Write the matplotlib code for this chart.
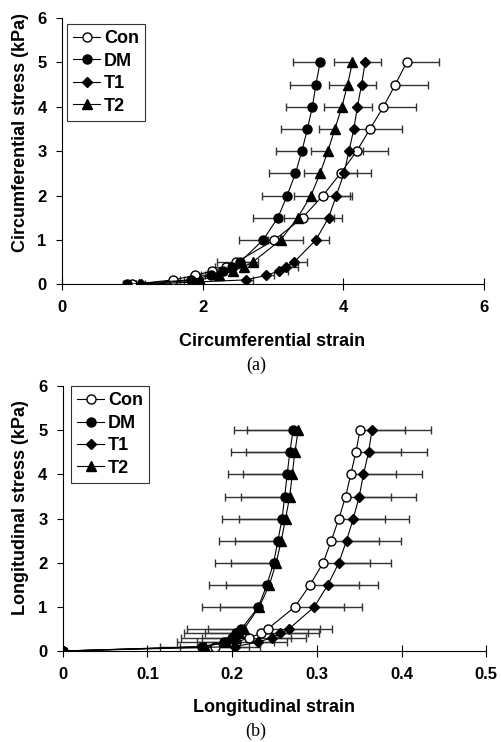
import numpy as np
import matplotlib.pyplot as plt

plt.rcParams['font.family'] = ['Liberation Sans', 'DejaVu Sans']

stress = [0, 0.1, 0.2, 0.3, 0.4, 0.5, 1, 1.5, 2, 2.5, 3, 3.5, 4, 4.5, 5]
labels = ["Con", "DM", "T1", "T2"]

# circumferential strain (a)
circ_con = [1.00, 1.58, 1.89, 2.13, 2.33, 2.48, 3.02, 3.42, 3.71, 3.96, 4.19, 4.38, 4.57, 4.74, 4.90]
circ_dm = [0.92, 1.83, 2.12, 2.29, 2.42, 2.53, 2.86, 3.07, 3.20, 3.32, 3.41, 3.49, 3.56, 3.61, 3.67]
circ_t1 = [1.13, 2.61, 2.90, 3.08, 3.19, 3.30, 3.61, 3.79, 3.90, 4.01, 4.08, 4.15, 4.20, 4.26, 4.31]
circ_t2 = [1.10, 1.96, 2.23, 2.43, 2.59, 2.71, 3.11, 3.35, 3.54, 3.67, 3.78, 3.88, 3.98, 4.06, 4.13]
circ_con_err = [0.05, 0.10, 0.15, 0.20, 0.25, 0.30, 0.41, 0.45, 0.41, 0.44, 0.44, 0.46, 0.46, 0.47, 0.46]
circ_dm_err = [0.05, 0.10, 0.15, 0.20, 0.25, 0.33, 0.34, 0.36, 0.36, 0.38, 0.37, 0.38, 0.38, 0.37, 0.39]
circ_t1_err = [0.05, 0.10, 0.12, 0.14, 0.16, 0.18, 0.18, 0.19, 0.20, 0.18, 0.20, 0.20, 0.21, 0.21, 0.22]
circ_t2_err = [0.05, 0.05, 0.08, 0.10, 0.12, 0.15, 0.18, 0.20, 0.24, 0.23, 0.24, 0.23, 0.25, 0.26, 0.26]

# longitudinal strain (b)
long_con = [0, 0.180, 0.205, 0.220, 0.234, 0.242, 0.274, 0.292, 0.3075, 0.317, 0.326, 0.334, 0.340, 0.346, 0.351]
long_dm = [0, 0.165, 0.190, 0.200, 0.205, 0.211, 0.231, 0.241, 0.249, 0.254, 0.259, 0.262, 0.265, 0.268, 0.272]
long_t1 = [0, 0.203, 0.230, 0.247, 0.257, 0.267, 0.297, 0.313, 0.326, 0.335, 0.343, 0.350, 0.355, 0.361, 0.365]
long_t2 = [0, 0.168, 0.193, 0.203, 0.208, 0.214, 0.232, 0.244, 0.252, 0.258, 0.263, 0.268, 0.271, 0.274, 0.278]
long_con_err = [0, 0.04, 0.045, 0.05, 0.055, 0.062, 0.058, 0.058, 0.055, 0.056, 0.055, 0.053, 0.054, 0.053, 0.053]
long_dm_err = [0, 0.05, 0.055, 0.06, 0.062, 0.064, 0.067, 0.068, 0.069, 0.070, 0.071, 0.070, 0.070, 0.069, 0.070]
long_t1_err = [0, 0.03, 0.035, 0.04, 0.045, 0.051, 0.056, 0.059, 0.062, 0.064, 0.066, 0.067, 0.069, 0.069, 0.070]
long_t2_err = [0, 0.03, 0.035, 0.038, 0.04, 0.043, 0.046, 0.051, 0.053, 0.055, 0.055, 0.058, 0.058, 0.058, 0.060]

styles = {
    "Con": dict(marker='o', mfc='white', mec='black', ms=6.5),
    "DM": dict(marker='o', mfc='black', mec='black', ms=6.5),
    "T1": dict(marker='D', mfc='black', mec='black', ms=5),
    "T2": dict(marker='^', mfc='black', mec='black', ms=6.5),
}
# which side the error bar goes: -1 left, +1 right
sides = {"Con": 1, "DM": -1, "T1": 1, "T2": -1}

W, H = 502, 742


def draw(ax, xs, errs, xmax, xticks, leg_anchor):
    for lab, x, e in zip(labels, xs, errs):
        e = np.array(e)
        z = np.zeros_like(e)
        xerr = [e, z] if sides[lab] < 0 else [z, e]
        ax.errorbar(x, stress, xerr=xerr, fmt='none', ecolor='#333333',
                    elinewidth=1.0, capsize=3, capthick=1.0, zorder=1)
    for lab, x in zip(labels, xs):
        ax.plot(x, stress, '-', color='black', lw=0.8, label=lab, zorder=3,
                **styles[lab])
    ax.set_xlim(0, xmax)
    ax.set_ylim(0, 6)
    ax.set_xticks(xticks)
    ax.set_yticks(range(7))
    ax.set_xticklabels([f"{t:g}" for t in xticks], fontweight='bold', fontsize=12)
    ax.set_yticklabels([str(t) for t in range(7)], fontweight='bold', fontsize=12)
    ax.spines['top'].set_visible(False)
    ax.spines['right'].set_visible(False)
    ax.tick_params(axis='x', direction='inout', length=9, width=0.8, pad=7)
    ax.tick_params(axis='y', direction='out', length=4, width=0.8, pad=7)
    leg = ax.legend(loc='upper left', bbox_to_anchor=leg_anchor, borderaxespad=0,
                    prop=dict(weight='bold', size=13), frameon=True,
                    fancybox=False, edgecolor='black', handlelength=1.5,
                    handletextpad=0.2, borderpad=0.35, labelspacing=0.3)
    leg.get_frame().set_linewidth(0.8)


fig = plt.figure(figsize=(W / 100, H / 100), dpi=100)
ax1 = fig.add_axes([0.1235, 0.6168, 0.8406, 0.359])
ax2 = fig.add_axes([0.1249, 0.1226, 0.8438, 0.357])

draw(ax1, [circ_con, circ_dm, circ_t1, circ_t2],
     [circ_con_err, circ_dm_err, circ_t1_err, circ_t2_err],
     6, [0, 2, 4, 6], (0.012, 0.977))
draw(ax2, [long_con, long_dm, long_t1, long_t2],
     [long_con_err, long_dm_err, long_t1_err, long_t2_err],
     0.5, [0, 0.1, 0.2, 0.3, 0.4, 0.5], (0.019, 1.0))

bold = dict(fontweight='bold', fontsize=13, ha='center', va='center')
fig.text(272 / W, 1 - 342 / H, "Circumferential strain", **bold)
fig.text(274 / W, 1 - 707 / H, "Longitudinal strain", **bold)
fig.text(21 / W, 1 - 133 / H, "Circumferential stress (kPa)", rotation=90, **bold)
fig.text(21 / W, 1 - 508 / H, "Longitudinal stress (kPa)", rotation=90, **bold)
serif = dict(family='Liberation Serif', fontsize=13, ha='center', va='center')
fig.text(256 / W, 1 - 365 / H, "(a)", **serif)
fig.text(256 / W, 1 - 731 / H, "(b)", **serif)

fig.savefig("out.png", dpi=100)
